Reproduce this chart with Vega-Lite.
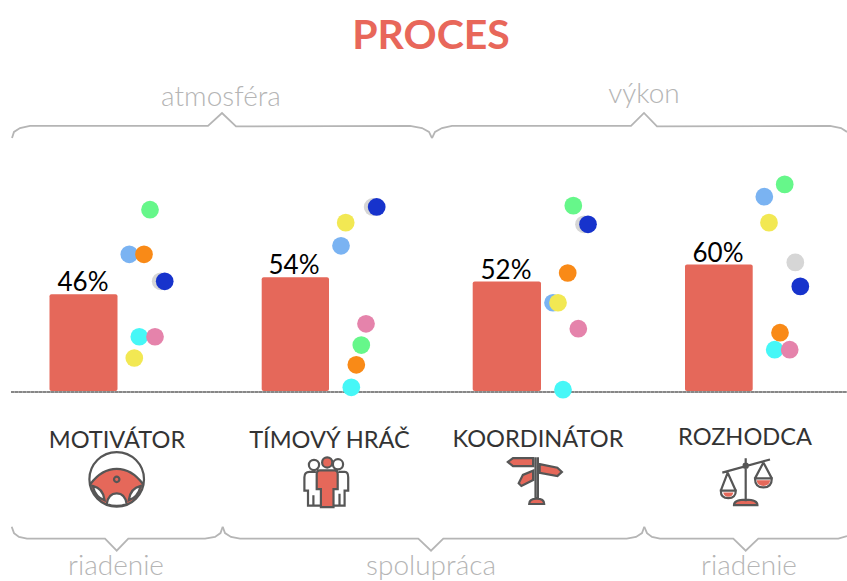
{
"$schema":"https://vega.github.io/schema/vega-lite/v6.json",
"width":847,"height":581,"padding":0,
"autosize":"none",
"background":"#ffffff",
"config":{"view":{"stroke":null},"font":"Lato"},
"encoding":{
 "x":{"field":"x","type":"quantitative","scale":{"domain":[0,847],"nice":false,"zero":false},"axis":null},
 "y":{"field":"pct","type":"quantitative","scale":{"domain":[-88.94,184.47],"nice":false,"zero":false},"axis":null}
},
"resolve":{"scale":{"shape":"independent"}},
"layer":[
{"data":{"values":[
 {"x":11,"x2":847,"pct":0}
]},"mark":{"type":"rule","color":"#a8a8a8","strokeWidth":2},"encoding":{"x2":{"field":"x2"}}},
{"data":{"values":[
 {"x":11,"x2":847,"pct":0}
]},"mark":{"type":"rule","color":"#666666","strokeWidth":1,"strokeDash":[3,1]},"encoding":{"x2":{"field":"x2"}}},
{"data":{"values":[
 {"x":49.5,"x2":117.5,"pct":46,"label":"46%","xc":83},
 {"x":261.7,"x2":329,"pct":54,"label":"54%","xc":294},
 {"x":472.7,"x2":541,"pct":52,"label":"52%","xc":506},
 {"x":685,"x2":752.7,"pct":60,"label":"60%","xc":718}
]},"layer":[
 {"mark":{"type":"bar","color":"#e5685a","cornerRadius":2},"encoding":{"x2":{"field":"x2"},"y2":{"datum":0.5}}},
 {"mark":{"type":"text","fontSize":26,"fontWeight":400,"color":"#000000","baseline":"alphabetic","dy":-3},"encoding":{"x":{"field":"xc","type":"quantitative"},"text":{"field":"label"}}}
]},
{"data":{"values":[
 {"s":"sivá","x":160.7,"pct":52.1},{"s":"sivá","x":372.7,"pct":87.1},{"s":"sivá","x":584,"pct":78.9},{"s":"sivá","x":795.3,"pct":61},
 {"s":"svetlomodrá","x":129.3,"pct":64.8},{"s":"svetlomodrá","x":341,"pct":68.8},{"s":"svetlomodrá","x":553,"pct":42},{"s":"svetlomodrá","x":764.3,"pct":91.9},
 {"s":"tyrkysová","x":139.3,"pct":26},{"s":"tyrkysová","x":351.3,"pct":2.2},{"s":"tyrkysová","x":563,"pct":1.1},{"s":"tyrkysová","x":774.7,"pct":19.9},
 {"s":"oranžová","x":144,"pct":64.8},{"s":"oranžová","x":356.3,"pct":12.8},{"s":"oranžová","x":567.7,"pct":56},{"s":"oranžová","x":780,"pct":27.9},
 {"s":"žltá","x":134.3,"pct":16},{"s":"žltá","x":345.7,"pct":79.7},{"s":"žltá","x":558,"pct":42},{"s":"žltá","x":769,"pct":79.7},
 {"s":"ružová","x":155,"pct":26},{"s":"ružová","x":366,"pct":32.1},{"s":"ružová","x":578.3,"pct":29.8},{"s":"ružová","x":789.7,"pct":19.9},
 {"s":"zelená","x":150,"pct":85.8},{"s":"zelená","x":361.3,"pct":22.1},{"s":"zelená","x":573.3,"pct":87.7},{"s":"zelená","x":784.7,"pct":97.7},
 {"s":"modrá","x":164.7,"pct":52.1},{"s":"modrá","x":376.7,"pct":87.1},{"s":"modrá","x":588,"pct":78.9},{"s":"modrá","x":800.3,"pct":49.7}
]},"mark":{"type":"point","filled":true,"opacity":1,"size":314},"encoding":{"color":{"field":"s","type":"nominal","legend":null,"scale":{
 "domain":["sivá","svetlomodrá","tyrkysová","oranžová","žltá","ružová","zelená","modrá"],
 "range":["#d6d6d6","#7ab3f2","#46f7f7","#f98a17","#f2e853","#e583ab","#66f78a","#1733cc"]}}}},
{"data":{"values":[
 {"b":"t1","x":12,"pct":119.5},{"b":"t1","x":14,"pct":122.4},{"b":"t1","x":20,"pct":124.2},{"b":"t1","x":30,"pct":125.2},{"b":"t1","x":208,"pct":125.2},{"b":"t1","x":222,"pct":131.3},{"b":"t1","x":236,"pct":125},{"b":"t1","x":410,"pct":125.2},{"b":"t1","x":422,"pct":124.2},{"b":"t1","x":429,"pct":122.4},{"b":"t1","x":432,"pct":119.5},
 {"b":"t2","x":432,"pct":119.5},{"b":"t2","x":435,"pct":122.4},{"b":"t2","x":442,"pct":124.2},{"b":"t2","x":452,"pct":125.2},{"b":"t2","x":631,"pct":125.2},{"b":"t2","x":644,"pct":131.3},{"b":"t2","x":657,"pct":125},{"b":"t2","x":830,"pct":125.2},{"b":"t2","x":841,"pct":124.2},{"b":"t2","x":847,"pct":122.4},
 {"b":"b1","x":11.7,"pct":-63.4},{"b":"b1","x":14,"pct":-66.4},{"b":"b1","x":19,"pct":-68.2},{"b":"b1","x":27,"pct":-69},{"b":"b1","x":105,"pct":-69},{"b":"b1","x":116.7,"pct":-74.7},{"b":"b1","x":128.3,"pct":-69},{"b":"b1","x":205,"pct":-69},{"b":"b1","x":215,"pct":-68.2},{"b":"b1","x":220.5,"pct":-66.4},{"b":"b1","x":222.7,"pct":-63.4},
 {"b":"b2","x":222.7,"pct":-63.4},{"b":"b2","x":225,"pct":-66.4},{"b":"b2","x":231,"pct":-68.2},{"b":"b2","x":240,"pct":-69},{"b":"b2","x":418.3,"pct":-69},{"b":"b2","x":431,"pct":-74.7},{"b":"b2","x":443.3,"pct":-69},{"b":"b2","x":626.7,"pct":-69},{"b":"b2","x":636,"pct":-68.2},{"b":"b2","x":642,"pct":-66.4},{"b":"b2","x":644.3,"pct":-63.4},
 {"b":"b3","x":644.3,"pct":-63.4},{"b":"b3","x":647,"pct":-66.4},{"b":"b3","x":652,"pct":-68.2},{"b":"b3","x":660,"pct":-69},{"b":"b3","x":733.3,"pct":-69},{"b":"b3","x":745.7,"pct":-74.7},{"b":"b3","x":758.3,"pct":-69},{"b":"b3","x":838.3,"pct":-69},{"b":"b3","x":847,"pct":-67.8}
]},"mark":{"type":"line","color":"#b5b5b5","strokeWidth":1.8},"encoding":{"detail":{"field":"b"}}},
{"data":{"values":[{"t":"PROCES","x":431,"pct":161.4}]},"mark":{"type":"text","fontSize":41,"fontWeight":700,"color":"#e8675a","baseline":"alphabetic"},"encoding":{"text":{"field":"t"}}},
{"data":{"values":[
 {"t":"atmosféra","x":221,"pct":134.6},{"t":"výkon","x":644,"pct":136},
 {"t":"riadenie","x":116,"pct":-86.1},{"t":"spolupráca","x":431,"pct":-86.1},{"t":"riadenie","x":749,"pct":-86.1}
]},"mark":{"type":"text","fontSize":28,"fontWeight":300,"color":"#b5b5b5","baseline":"alphabetic"},"encoding":{"text":{"field":"t"}}},
{"data":{"values":[
 {"t":"MOTIVÁTOR","x":117,"pct":-26.2},{"t":"TÍMOVÝ HRÁČ","x":329.5,"pct":-26.2},{"t":"KOORDINÁTOR","x":538,"pct":-25.7},{"t":"ROZHODCA","x":745,"pct":-24.9}
]},"mark":{"type":"text","fontSize":23.6,"fontWeight":400,"color":"#333333","baseline":"alphabetic"},"encoding":{"text":{"field":"t"}}},
{"data":{"values":[
 {"i":"volant","x":116.7,"pct":-41.1},{"i":"tím","x":326,"pct":-42.2},{"i":"smerovník","x":536.7,"pct":-41.4},{"i":"váhy","x":745.7,"pct":-42.2}
]},"mark":{"type":"point","filled":true,"fill":"#e5685a","stroke":null,"opacity":1,"size":3600},"encoding":{"shape":{"field":"i","type":"nominal","legend":null,"scale":{
 "domain":["volant","tím","smerovník","váhy"],
 "range":[
 "M-0.87,0.15Q-0.5,-0.35 0,-0.35Q0.5,-0.35 0.87,0.15A0.88,0.88 0 0 1 -0.87,0.15ZM-0.8,0.22Q-0.7,0.6 -0.4,0.7Q-0.45,0.3 -0.8,0.22ZM0.8,0.22Q0.45,0.3 0.4,0.7Q0.7,0.6 0.8,0.22ZM-0.33,0.82Q0,0.95 0.33,0.82Q0.28,0.47 0,0.47Q-0.28,0.47 -0.33,0.82Z",
 "M-0.21,-0.38L0.29,-0.38Q0.39,-0.38 0.39,-0.25L0.39,0.25L0.25,0.25L0.25,0.85L-0.17,0.85L-0.17,0.25L-0.31,0.25L-0.31,-0.25Q-0.31,-0.38 -0.21,-0.38ZM-0.13,-0.64A0.17,0.17 0 1,1 0.21,-0.64A0.17,0.17 0 1,1 -0.13,-0.64Z",
 "M-0.96,-0.6L-0.79,-0.73L-0.12,-0.73L-0.12,-0.46L-0.79,-0.46ZM0.1,-0.53L0.69,-0.41L0.84,-0.27L0.69,-0.13L0.1,-0.24ZM-0.12,-0.31L-0.12,0L-0.51,0.2L-0.6,0.11L-0.46,-0.17ZM-0.25,0.8Q-0.25,0.62 0,0.62Q0.25,0.62 0.25,0.8Z",
 "M-0.75,0.36L-0.41,0.36Q-0.44,0.5 -0.58,0.5Q-0.72,0.5 -0.75,0.36ZM0.36,-0.05L0.82,-0.05Q0.78,0.14 0.59,0.14Q0.4,0.14 0.36,-0.05ZM-0.39,0.78Q-0.39,0.6 0,0.6Q0.39,0.6 0.39,0.78Z"
 ]}}}},
{"data":{"values":[
 {"i":"volant","x":116.7,"pct":-41.1},{"i":"tím","x":326,"pct":-42.2},{"i":"smerovník","x":536.7,"pct":-41.4},{"i":"váhy","x":745.7,"pct":-42.2}
]},"mark":{"type":"point","filled":false,"stroke":"#565656","strokeWidth":2.2,"opacity":1,"size":3600},"encoding":{"shape":{"field":"i","type":"nominal","legend":null,"scale":{
 "domain":["volant","tím","smerovník","váhy"],
 "range":[
 "M-0.91,0A0.91,0.91 0 1,1 0.91,0A0.91,0.91 0 1,1 -0.91,0ZM-0.87,0.15Q-0.5,-0.35 0,-0.35Q0.5,-0.35 0.87,0.15M-0.8,0.22Q-0.7,0.6 -0.4,0.7Q-0.45,0.3 -0.8,0.22ZM0.8,0.22Q0.45,0.3 0.4,0.7Q0.7,0.6 0.8,0.22ZM-0.33,0.82Q0,0.95 0.33,0.82Q0.28,0.47 0,0.47Q-0.28,0.47 -0.33,0.82ZM-0.09,0A0.09,0.09 0 1,1 0.09,0A0.09,0.09 0 1,1 -0.09,0Z",
 "M-0.21,-0.38L0.29,-0.38Q0.39,-0.38 0.39,-0.25L0.39,0.25L0.25,0.25L0.25,0.85L-0.17,0.85L-0.17,0.25L-0.31,0.25L-0.31,-0.25Q-0.31,-0.38 -0.21,-0.38ZM-0.13,-0.64A0.17,0.17 0 1,1 0.21,-0.64A0.17,0.17 0 1,1 -0.13,-0.64ZM-0.57,-0.56A0.17,0.17 0 1,1 -0.23,-0.56A0.17,0.17 0 1,1 -0.57,-0.56ZM0.23,-0.58A0.17,0.17 0 1,1 0.57,-0.58A0.17,0.17 0 1,1 0.23,-0.58ZM-0.34,-0.33L-0.55,-0.33Q-0.72,-0.33 -0.72,-0.15L-0.72,0.3L-0.6,0.3L-0.6,0.8L-0.42,0.8L-0.42,0.45M-0.42,0.8L-0.2,0.8M0.42,-0.33L0.63,-0.33Q0.74,-0.33 0.74,-0.15L0.74,0.3L0.62,0.3L0.62,0.8L0.45,0.8L0.45,0.4M0.45,0.8L0.25,0.8",
 "M-0.96,-0.6L-0.79,-0.73L-0.12,-0.73L-0.12,-0.46L-0.79,-0.46ZM0.1,-0.53L0.69,-0.41L0.84,-0.27L0.69,-0.13L0.1,-0.24ZM-0.12,-0.31L-0.12,0L-0.51,0.2L-0.6,0.11L-0.46,-0.17ZM-0.25,0.8Q-0.25,0.62 0,0.62Q0.25,0.62 0.25,0.8ZM-0.04,-0.76L-0.04,0.65M0.04,-0.76L0.04,0.65",
 "M-0.78,-0.3L0.81,-0.74M0,-0.78L0,0.65M-0.07,-0.53A0.07,0.07 0 1,1 0.07,-0.53A0.07,0.07 0 1,1 -0.07,-0.53ZM-0.39,0.78Q-0.39,0.6 0,0.6Q0.39,0.6 0.39,0.78ZM-0.6,-0.3L-0.83,0.3M-0.6,-0.3L-0.33,0.3M-0.83,0.3L-0.33,0.3Q-0.33,0.55 -0.58,0.55Q-0.83,0.55 -0.83,0.3ZM0.59,-0.64L0.31,-0.11M0.59,-0.64L0.87,-0.11M0.31,-0.11L0.87,-0.11Q0.87,0.19 0.59,0.19Q0.31,0.19 0.31,-0.11Z"
 ]}}}}
]
}
